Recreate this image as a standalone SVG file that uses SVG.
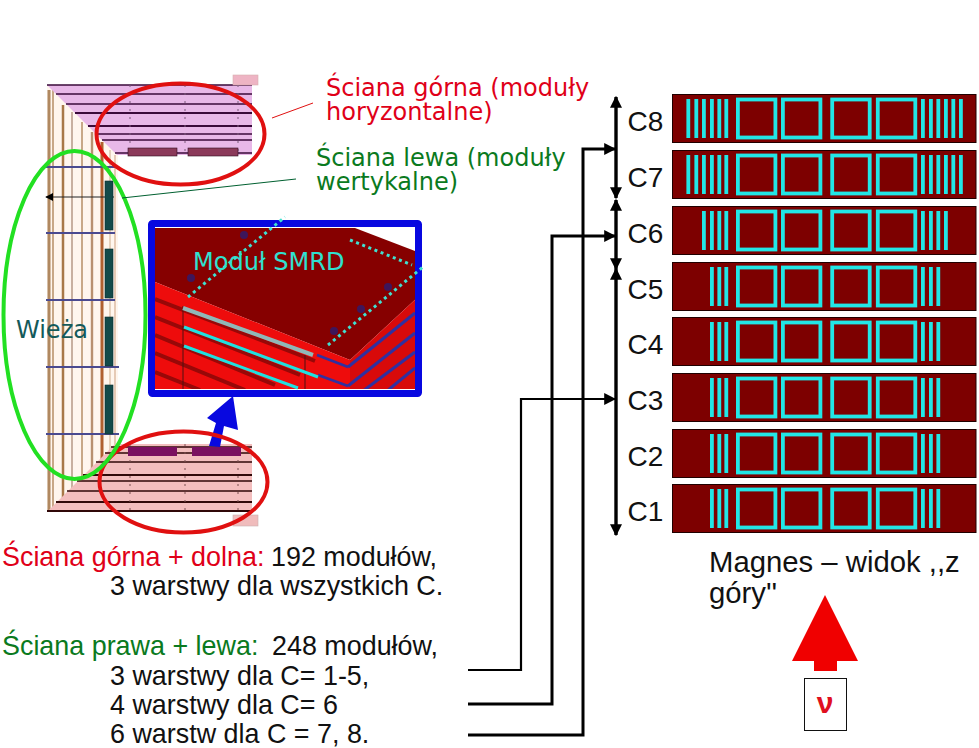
<svg xmlns="http://www.w3.org/2000/svg" xmlns:xlink="http://www.w3.org/1999/xlink" width="979" height="748" viewBox="0 0 979 748">
<style>
.s{font-family:"Liberation Sans",Arial,sans-serif;font-size:26.9px;fill:#111}
.c{font-family:"Liberation Sans",Arial,sans-serif;font-size:28px;fill:#111}
.m{font-family:"Liberation Sans",Arial,sans-serif;font-size:29.300px;fill:#111}
.d{font-family:"DejaVu Sans",sans-serif;font-size:24px}
.r{fill:#e00018}.g{fill:#0a7a20}
.box{fill:#7d0000;stroke:#200000;stroke-width:1}
.sq{fill:none;stroke:#22e6e6;stroke-width:3.800}
.bar{fill:#22e6e6}
.v{fill:none}
.lh{stroke:#3a0a3a;stroke-width:1.600;fill:none}
.conn{fill:none;stroke:#000;stroke-width:3}
.dot{fill:none;stroke:#40e0d0;stroke-width:3;stroke-dasharray:3 3.600}
.el{fill:none;stroke-width:4}
.tow{stroke:#4a4a90;stroke-width:2}
.mt{fill:#134a4a;stroke:#0c2c2c;stroke-width:.6}
</style>
<defs>
<g id="squares">
<rect class="box" x="672.500" y="0.500" width="303.500" height="48"/>
<rect class="sq" x="737.900" y="5.500" width="37.500" height="38"/>
<rect class="sq" x="782.900" y="5.500" width="37.500" height="38"/>
<rect class="sq" x="832.200" y="5.500" width="37.500" height="38"/>
<rect class="sq" x="877.800" y="5.500" width="37.500" height="38"/>
</g>
<g id="b3">
<rect class="bar" x="710" y="5" width="3.800" height="39"/><rect class="bar" x="717.400" y="5" width="3.800" height="39"/><rect class="bar" x="724.400" y="5" width="3.800" height="39"/>
<rect class="bar" x="921" y="5" width="3.800" height="39"/><rect class="bar" x="929" y="5" width="3.800" height="39"/><rect class="bar" x="936.400" y="5" width="3.800" height="39"/>
</g>
<g id="b4">
<use href="#b3" xlink:href="#b3"/>
<rect class="bar" x="702" y="5" width="3.800" height="39"/><rect class="bar" x="944" y="5" width="3.800" height="39"/>
</g>
<g id="b6">
<use href="#b4" xlink:href="#b4"/>
<rect class="bar" x="694.400" y="5" width="3.800" height="39"/><rect class="bar" x="686.400" y="5" width="3.800" height="39"/>
<rect class="bar" x="951.400" y="5" width="3.800" height="39"/><rect class="bar" x="959" y="5" width="3.800" height="39"/>
</g>
<clipPath id="ins"><rect x="155" y="228" width="260" height="161"/></clipPath>
<marker id="ah" viewBox="0 0 10 10" refX="9" refY="5" markerWidth="8" markerHeight="8" markerUnits="userSpaceOnUse" orient="auto-start-reverse"><path d="M0 0L10 5L0 10Z" fill="#000"/></marker>
<marker id="ahs" viewBox="0 0 10 10" refX="9" refY="5" markerWidth="12" markerHeight="12" markerUnits="userSpaceOnUse" orient="auto-start-reverse"><path d="M0 0L10 5L0 10Z" fill="#000"/></marker>
</defs>
<rect width="979" height="748" fill="#fff"/>

<g id="detector-tower">
<polygon points="47,85 118,155 118,444 47,512" fill="#fff6ee"/>
<g class="v">
<path d="M49 90V510" stroke="#b08860" stroke-width="3"/>
<path d="M53 90V510" stroke="#c8a888" stroke-width="2"/>
<path d="M63 105V503" stroke="#a87848" stroke-width="2.500"/>
<path d="M72 112V494" stroke="#c8b0a0" stroke-width="2"/>
<path d="M82 122V484" stroke="#c8a888" stroke-width="2"/>
<path d="M92 132V474" stroke="#b89070" stroke-width="2.400"/>
<path d="M102 142V464" stroke="#b06030" stroke-width="3"/>
<path d="M110 150V452" stroke="#e0c8b0" stroke-width="1.600"/>
<path d="M115 155V446" stroke="#e0c0a8" stroke-width="1.600"/>
</g>
<path class="tow" d="M46 167H115M46 233H115M46 300H115M46 367H119M46 434H119"/>
<path d="M46 197H114" stroke="#222" stroke-width="1.200" marker-start="url(#ah)"/>
<rect class="mt" x="105" y="181" width="8" height="49"/>
<rect class="mt" x="105" y="249" width="8" height="49"/>
<rect class="mt" x="105" y="317" width="8" height="49"/>
<rect class="mt" x="105" y="385" width="8" height="49"/>
</g>

<g id="wall-top">
<polygon points="47,85 252,85 252,155 117,155" fill="#e8b8e8"/>
<path class="lh" d="M47 85H252M56 94H252M66 104H252M75 113H252M88 126H252M96 134H252M102 140H252M115 153H252"/>
<path d="M75 113H252M88 126H252" stroke="#3a0a3a" stroke-width="2.200" fill="none"/>
<path d="M130 85V155M185 85V155M238 85V155" stroke="#7a5a7a" stroke-width="1" stroke-dasharray="2 6" fill="none"/>
<rect x="233" y="75" width="25" height="10" fill="#eeb4c4" stroke="#d8b0b0" stroke-width=".6"/>
<rect x="128" y="148" width="49" height="8" fill="#8b3a5a" stroke="#301020" stroke-width=".6"/>
<rect x="188" y="148" width="50" height="8" fill="#8b3a5a" stroke="#301020" stroke-width=".6"/>
</g>

<g id="wall-bottom">
<polygon points="47,512 252,512 252,444 115,444" fill="#f3bebe"/>
<path class="lh" d="M111 447H252M105 453H252M96 462H252M83 475H252M77 481H252M67 491H252M56 502H252M47 511H252" style="stroke:#300808"/>
<path d="M83 475H252M56 502H252M47 511H252" stroke="#300808" stroke-width="2.200" fill="none"/>
<path d="M130 444V512M185 444V512M238 444V512" stroke="#7a5050" stroke-width="1" stroke-dasharray="2 6" fill="none"/>
<rect x="233" y="515" width="25" height="11" fill="#f0bcbc" stroke="#c8b0b0" stroke-width=".6"/>
<rect x="128" y="447" width="49" height="9" fill="#7a1060"/>
<rect x="192" y="447" width="49" height="9" fill="#7a1060"/>
</g>

<g id="inset">
<rect x="151" y="223" width="268" height="171" fill="#fff"/>
<g clip-path="url(#ins)">
<polygon points="155,228 355,228 420,253 420,295 350,360 155,282" fill="#860000"/>
<polygon points="155,282 350,360 350,392 155,392" fill="#ee0c0c"/>
<polygon points="350,360 420,295 420,392 350,392" fill="#d80a0a"/>
<path d="M155 299L315 361M155 317L300 375M155 335L275 385M155 353L245 390M155 372L200 390" stroke="#980808" stroke-width="4" fill="none"/>
<path d="M348 367L415 313M348 386L415 333M363 391L415 352M387 391L415 368" stroke="#3030a0" stroke-width="3" fill="none"/>
<path d="M317 355L348 367M318 375L348 386" stroke="#3030a0" stroke-width="2.500" fill="none"/>
<path d="M183 306V390M305 355V390" stroke="#501010" stroke-width="1" fill="none"/>
</g>
<circle cx="244" cy="235" r="4" fill="#202080" opacity=".7"/>
<circle cx="191" cy="278" r="4" fill="#202080" opacity=".7"/>
<circle cx="388" cy="287" r="4" fill="#202080" opacity=".7"/>
<circle cx="361" cy="309" r="4" fill="#202080" opacity=".7"/>
<circle cx="334" cy="331" r="4" fill="#202080" opacity=".7"/>
<path d="M183 308L313 355" stroke="#8fb8b8" stroke-width="4" fill="none"/>
<path d="M184 327L318 377M184 346L298 388" stroke="#20e0e0" stroke-width="3" fill="none"/>
<rect x="151.500" y="223.500" width="267" height="170" rx="1" fill="none" stroke="#0808e0" stroke-width="7"/>
<path class="dot" d="M188 297L285 217M328 345L423 267M350 240L412 265"/>
<text class="d" x="193" y="270" fill="#30e0d0">Moduł SMRD</text>
</g>

<g id="blue-arrow"><polygon points="233,396 238,430 224,426 220,447 209,446 216,423 207,418" fill="#0808e0"/></g>

<g id="ellipses">
<ellipse class="el" cx="180.500" cy="134" rx="84" ry="50.500" stroke="#e01010"/>
<ellipse class="el" cx="183.500" cy="482" rx="84" ry="50.500" stroke="#e01010"/>
<ellipse class="el" cx="74.500" cy="315" rx="71" ry="164" stroke="#22e022"/>
<path d="M272 118L313 103" stroke="#e01010" stroke-width="1" fill="none"/>
<path d="M122 198L296 179" stroke="#006030" stroke-width="1" fill="none"/>
</g>

<g id="labels-left">
<text class="d r" x="326" y="96">Ściana górna (moduły</text>
<text class="d r" x="326" y="120">horyzontalne)</text>
<text class="d g" x="316" y="166">Ściana lewa (moduły</text>
<text class="d g" x="316" y="190">wertykalne)</text>
<text class="d" x="16" y="338" fill="#145a5a">Wieża</text>
<text class="s r" x="2" y="566">Ściana górna + dolna:</text>
<text class="s" x="271" y="566">192 modułów,</text>
<text class="s" x="110" y="595">3 warstwy dla wszystkich C.</text>
<text class="s g" x="2" y="655">Ściana prawa + lewa:</text>
<text class="s" x="272" y="655">248 modułów,</text>
<text class="s" x="110" y="685">3 warstwy dla C= 1-5,</text>
<text class="s" x="110" y="714">4 warstwy dla C= 6</text>
<text class="s" x="110" y="743">6 warstw dla C = 7, 8.</text>
</g>

<g id="connectors">
<path class="conn" d="M468 735H583V149H615" marker-end="url(#ahs)"/>
<path class="conn" d="M468 704H552V236H615" marker-end="url(#ahs)"/>
<path class="conn" d="M468 670H521V399H615" style="stroke-width:2.200" marker-end="url(#ahs)"/>
<path class="conn" d="M616 97V198" style="stroke-width:3.400" marker-start="url(#ahs)" marker-end="url(#ahs)"/>
<path class="conn" d="M616 200V269" style="stroke-width:3.400" marker-start="url(#ahs)" marker-end="url(#ahs)"/>
<path class="conn" d="M616 269V535" style="stroke-width:3.400" marker-start="url(#ahs)" marker-end="url(#ahs)"/>
</g>

<g id="C8"><g transform="translate(0,94)"><use href="#squares" xlink:href="#squares"/><use href="#b6" xlink:href="#b6"/></g><text class="c" x="627.500" y="131">C8</text></g>
<g id="C7"><g transform="translate(0,150)"><use href="#squares" xlink:href="#squares"/><use href="#b6" xlink:href="#b6"/></g><text class="c" x="627.500" y="187">C7</text></g>
<g id="C6"><g transform="translate(0,206)"><use href="#squares" xlink:href="#squares"/><use href="#b4" xlink:href="#b4"/></g><text class="c" x="627.500" y="243">C6</text></g>
<g id="C5"><g transform="translate(0,262)"><use href="#squares" xlink:href="#squares"/><use href="#b3" xlink:href="#b3"/></g><text class="c" x="627.500" y="299">C5</text></g>
<g id="C4"><g transform="translate(0,317)"><use href="#squares" xlink:href="#squares"/><use href="#b3" xlink:href="#b3"/></g><text class="c" x="627.500" y="354">C4</text></g>
<g id="C3"><g transform="translate(0,373)"><use href="#squares" xlink:href="#squares"/><use href="#b3" xlink:href="#b3"/></g><text class="c" x="627.500" y="410">C3</text></g>
<g id="C2"><g transform="translate(0,429)"><use href="#squares" xlink:href="#squares"/><use href="#b3" xlink:href="#b3"/></g><text class="c" x="627.500" y="466">C2</text></g>
<g id="C1"><g transform="translate(0,484)"><use href="#squares" xlink:href="#squares"/><use href="#b3" xlink:href="#b3"/></g><text class="c" x="627.500" y="521">C1</text></g>

<g id="magnet-caption">
<text class="m" x="709" y="572">Magnes – widok ,,z</text>
<text class="m" x="709" y="603">góry''</text>
</g>
<g id="nu">
<polygon points="825,595 858,661 837,661 837,671 814,671 814,661 792,661" fill="#f00000"/>
<rect x="804.500" y="678.500" width="42" height="52" fill="#fff" stroke="#111" stroke-width="1"/>
<text x="825" y="713" text-anchor="middle" font-family="'Liberation Sans',sans-serif" font-weight="bold" font-size="30" fill="#e01020">ν</text>
</g>
</svg>
